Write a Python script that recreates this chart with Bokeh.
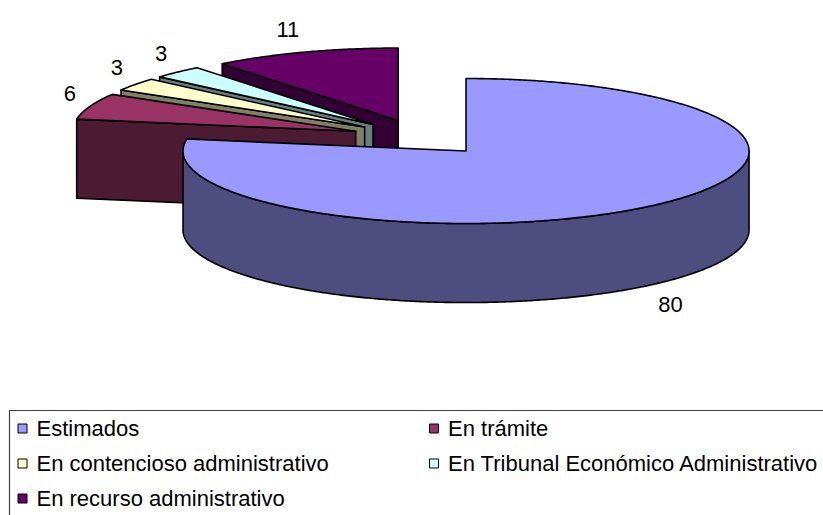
import numpy as np
from bokeh.plotting import figure
from bokeh.models import Range1d, ColumnDataSource
from bokeh.core.properties import value
from bokeh.embed import file_html
from bokeh.resources import INLINE

# ---------------- data ----------------
categories = [
    "Estimados",
    "En trámite",
    "En contencioso administrativo",
    "En Tribunal Económico Administrativo",
    "En recurso administrativo",
]
values = [80, 6, 3, 3, 11]
top_colors = ["#9999FF", "#993366", "#FFFFCC", "#CCFFFF", "#660066"]
side_colors = ["#4D4D80", "#4D1A33", "#808066", "#668080", "#330033"]

# ---------------- layout ----------------
CX, CY = 420.6, 136.9      # pie centre (page pixels)
RX, RY = 283.0, 72.5       # ellipse radii
DEPTH = 79.0               # thickness of the pie
EXPLODE = 0.246            # explosion as fraction of radius
START_DEG = 90.0
LABEL_GAP = 15.0
LABEL_HALF_H = 8.0
DIGIT_W = 12.2
FONT = "Liberation Sans"
FONT_SIZE = "22px"

W, H = 823, 515
p = figure(width=W, height=H, x_range=Range1d(0, W), y_range=Range1d(H, 0),
           output_backend="svg", toolbar_location=None, min_border=0,
           x_axis_location=None, y_axis_location=None, outline_line_color=None,
           background_fill_color="white", border_fill_color="white")
p.xgrid.visible = False
p.ygrid.visible = False

total = float(sum(values))
slices = []
start = START_DEG
for i, v in enumerate(values):
    span = v / total * 360.0
    a0, a1 = start, start - span
    start = a1
    mid = np.radians((a0 + a1) / 2.0)
    ax = CX + EXPLODE * RX * np.cos(mid)
    ay = CY - EXPLODE * RY * np.sin(mid)
    slices.append(dict(i=i, a0=a0, a1=a1, mid=mid, ax=ax, ay=ay))


def arc(ax, ay, d0, d1, dz=0.0):
    n = max(4, int(abs(d0 - d1) * 2) + 2)
    t = np.radians(np.linspace(d0, d1, n))
    return list(ax + RX * np.cos(t)), list(ay - RY * np.sin(t) + dz)


xs, ys, fills = [], [], []
for s in sorted(slices, key=lambda s: s["ay"]):
    i, a0, a1, ax, ay = s["i"], s["a0"], s["a1"], s["ax"], s["ay"]
    dark = side_colors[i]
    # radial cut faces
    for d, vis in ((a0, np.cos(np.radians(a0)) < -1e-6), (a1, np.cos(np.radians(a1)) > 1e-6)):
        if vis:
            rx_ = ax + RX * np.cos(np.radians(d))
            ry_ = ay - RY * np.sin(np.radians(d))
            xs.append([ax, rx_, rx_, ax])
            ys.append([ay, ry_, ry_ + DEPTH, ay + DEPTH])
            fills.append(dark)
    # outer walls (front half only)
    for k in range(-2, 3):
        lo, hi = max(a1, k * 360 - 180), min(a0, k * 360)
        if hi - lo > 1e-6:
            tx, ty = arc(ax, ay, hi, lo)
            bx, by = arc(ax, ay, lo, hi, DEPTH)
            xs.append(tx + bx)
            ys.append(ty + by)
            fills.append(dark)
    # top face
    tx, ty = arc(ax, ay, a0, a1)
    xs.append([ax] + tx)
    ys.append([ay] + ty)
    fills.append(top_colors[i])

src = ColumnDataSource(dict(xs=xs, ys=ys, fill=fills))
p.patches("xs", "ys", source=src, fill_color="fill", line_color="black",
          line_width=1.6, line_join="round")

# data labels: text box placed just outside the rim, along the slice bisector
lx, ly, lt = [], [], []
for s in slices:
    m = s["mid"]
    ux, uy = np.cos(m), -np.sin(m)
    bx = s["ax"] + RX * ux
    by = s["ay"] + RY * uy + (DEPTH if uy > 0 else 0.0)
    txt = str(values[s["i"]])
    hw = DIGIT_W * len(txt) / 2.0
    lx.append(bx + LABEL_GAP * ux + hw * np.sign(ux))
    ly.append(by + LABEL_GAP * uy + LABEL_HALF_H * np.sign(uy))
    lt.append(txt)
p.text(x=lx, y=ly, text=lt, text_font=value(FONT), text_font_size=FONT_SIZE,
       text_align="center", text_baseline="middle", text_color="black")

# legend
LEG_LEFT, LEG_TOP = 9, 410
COL_X = [22, 433.5]
ROW_Y = [428, 463, 498]
p.quad(left=[LEG_LEFT], right=[860], top=[LEG_TOP], bottom=[580],
       fill_alpha=0, line_color="#404040", line_width=1.2)
mx, my, tx_, ty_ = [], [], [], []
for k, name in enumerate(categories):
    r, c = divmod(k, 2)
    mx.append(COL_X[c])
    my.append(ROW_Y[r])
    tx_.append(COL_X[c] + 14)
    ty_.append(ROW_Y[r])
p.rect(x=mx, y=my, width=9, height=9, width_units="screen", height_units="screen",
       fill_color=top_colors, line_color="black", line_width=1)
p.text(x=tx_, y=ty_, text=categories, text_font=value(FONT), text_font_size=FONT_SIZE,
       text_align="left", text_baseline="middle", text_color="black")

open("out.html", "w").write(file_html(p, INLINE))
